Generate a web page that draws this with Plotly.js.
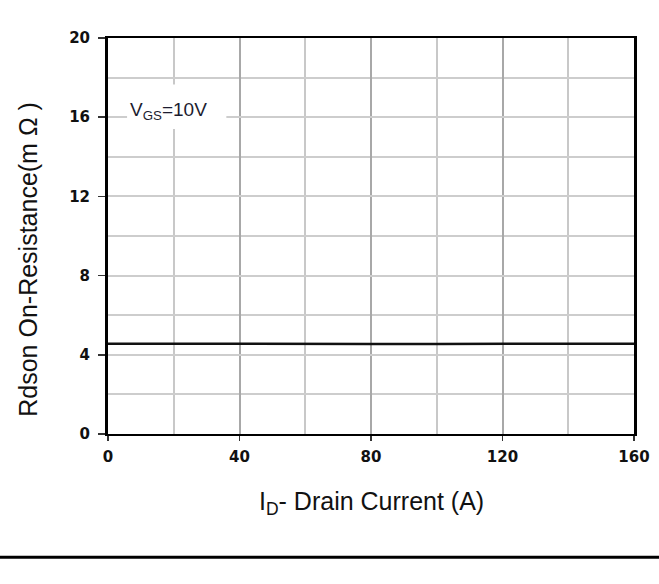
<!DOCTYPE html>
<html>
<head>
<meta charset="utf-8">
<script src="https://cdn.plot.ly/plotly-3.0.1.min.js"></script>
<style>
  html, body { margin: 0; padding: 0; background: #fff; }
  #chart { width: 659px; height: 584px; }
</style>
</head>
<body>
<div id="chart"></div>
<script>
// Data
const drainCurrent = [0, 20, 40, 60, 80, 100, 120, 140, 160];           // I_D (A)
const rdsonVgs10   = [4.56, 4.55, 4.55, 4.55, 4.55, 4.55, 4.55, 4.55, 4.56]; // mΩ
const xTickVals = [0, 40, 80, 120, 160];
const yTickVals = [0, 4, 8, 12, 16, 20];
const curveLabel = 'V<sub>GS</sub>=10V';
const xTitle = 'I<sub>D</sub>- Drain Current (A)';
const yTitle = 'Rdson On-Resistance(m Ω )';

const tickFont = { family: 'DejaVu Sans, Arial', size: 15, color: '#111', weight: 'bold' };
const titleFont = { family: 'Liberation Sans, Arial', size: 25, color: '#111' };

const trace = {
  x: drainCurrent,
  y: rdsonVgs10,
  type: 'scatter',
  mode: 'lines',
  line: { color: '#111', width: 2.5 },
  hoverinfo: 'skip'
};

const layout = {
  width: 659,
  height: 584,
  margin: { l: 108, r: 25, t: 38, b: 150 },
  paper_bgcolor: '#fff',
  plot_bgcolor: '#fff',
  showlegend: false,
  xaxis: {
    range: [0, 160],
    tickvals: xTickVals,
    ticktext: xTickVals.map(v => String(v)),
    ticks: 'outside',
    ticklen: 5,
    tickwidth: 1.5,
    tickcolor: '#333',
    ticklabelstandoff: 3,
    tickfont: tickFont,
    showgrid: true,
    gridcolor: '#a8a8a8',
    gridwidth: 2,
    minor: { dtick: 20, showgrid: true, gridcolor: '#c8c8c8', gridwidth: 2 },
    showline: true,
    linecolor: '#000',
    linewidth: 2,
    mirror: true,
    zeroline: false,
    fixedrange: true
  },
  yaxis: {
    range: [0, 20],
    tickvals: yTickVals,
    ticktext: yTickVals.map(v => String(v)),
    ticks: 'outside',
    ticklen: 7,
    tickwidth: 1.5,
    tickcolor: '#333',
    ticklabelstandoff: 5,
    tickfont: tickFont,
    showgrid: true,
    gridcolor: '#cdcdcd',
    gridwidth: 2,
    minor: { dtick: 2, showgrid: true, gridcolor: '#cdcdcd', gridwidth: 2 },
    showline: true,
    linecolor: '#000',
    linewidth: 3,
    mirror: true,
    zeroline: false,
    fixedrange: true
  },
  shapes: [
    // white label box
    { type: 'rect', xref: 'x', yref: 'y', x0: 5.8, x1: 36, y0: 15.4, y1: 17.65,
      fillcolor: '#fff', line: { width: 0 }, layer: 'above' },
    // page rule under the figure
    { type: 'line', xref: 'paper', yref: 'paper', x0: -0.3, x1: 1.2, y0: -0.311, y1: -0.311,
      line: { color: '#000', width: 3 } }
  ],
  annotations: [
    { x: 6.0, y: 16.3, xref: 'x', yref: 'y', xanchor: 'left', yanchor: 'middle',
      text: curveLabel, showarrow: false,
      font: { family: 'Liberation Sans, Arial', size: 19, color: '#1c1c30' } },
    { x: 0.5, y: 0, xref: 'paper', yref: 'paper', xanchor: 'center', yanchor: 'middle',
      yshift: -69, text: xTitle, showarrow: false, font: titleFont },
    { x: 0, y: 0.44, xref: 'paper', yref: 'paper', xanchor: 'center', yanchor: 'middle',
      xshift: -80, textangle: -90, text: yTitle, showarrow: false, font: titleFont }
  ]
};

Plotly.newPlot('chart', [trace], layout, { displayModeBar: false, staticPlot: true });
</script>
</body>
</html>
